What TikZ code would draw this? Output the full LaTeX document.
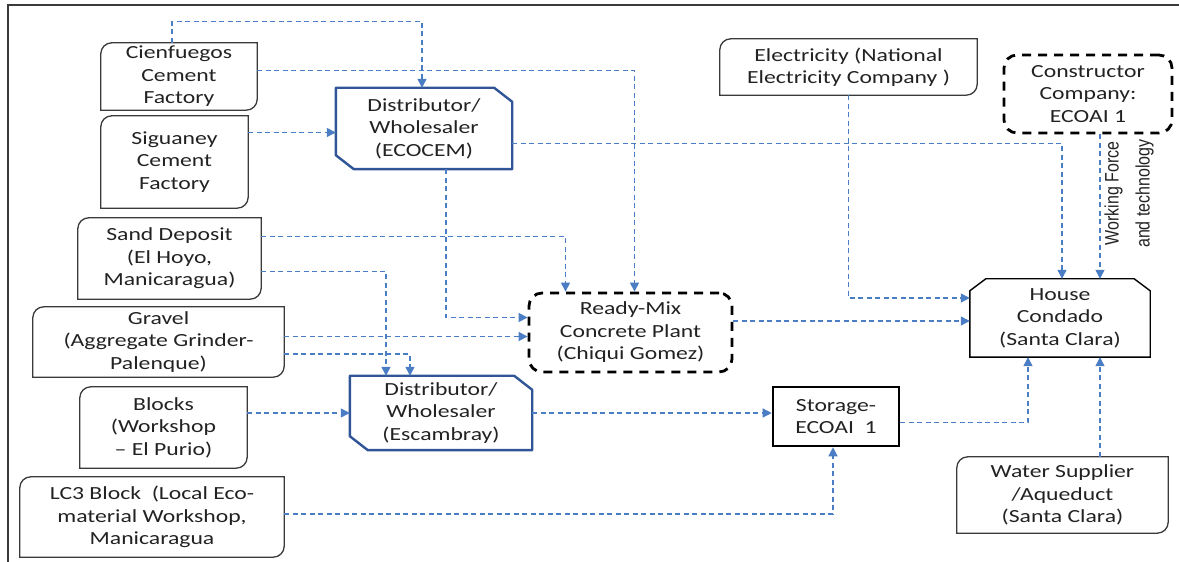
\documentclass[tikz,border=0pt]{standalone}
\usepackage{fontspec}
\setmainfont{Carlito}[FakeStretch=1.28]
\newfontfamily\narrowfont{Liberation Sans}[FakeStretch=0.82]
\usetikzlibrary{arrows.meta}
\definecolor{flowblue}{HTML}{4A7DC4}
\definecolor{distblue}{HTML}{2F5597}
\definecolor{boxgray}{HTML}{3A3A3A}
\definecolor{textgray}{HTML}{222222}

\newcommand{\boxfont}{\fontsize{18.5pt}{22.5pt}\selectfont}

% outline with rounded top-left and bottom-right corners
\newcommand{\diagcorners}[1]{%
  \draw[boxgray, line width=1.3pt] (#1.south west) -- ([yshift=-11pt]#1.north west)
    arc[start angle=180, end angle=90, radius=11pt] -- (#1.north east)
    -- ([yshift=11pt]#1.south east) arc[start angle=0, end angle=-90, radius=11pt] -- cycle;}
% distributor outline, top-right and bottom-left cut
\newcommand{\cutdiag}[1]{%
  \draw[distblue, line width=2.4pt, line join=round] (#1.north west) -- ([xshift=-18pt]#1.north east)
    -- ([yshift=-14pt]#1.north east) -- (#1.south east) -- ([xshift=18pt]#1.south west)
    -- ([yshift=14pt]#1.south west) -- cycle;}
% house outline, both top corners cut
\newcommand{\cuttop}[1]{%
  \draw[black, line width=1.4pt] (#1.south west) -- ([yshift=-12pt]#1.north west)
    -- ([xshift=16pt]#1.north west) -- ([xshift=-16pt]#1.north east)
    -- ([yshift=-12pt]#1.north east) -- (#1.south east) -- cycle;}

\tikzset{
  every node/.style={text=textgray, font=\boxfont, align=center, inner sep=0pt},
  plant/.style={draw=black, line width=2.8pt, dash pattern=on 9pt off 7pt, rounded corners=13pt},
  storebox/.style={draw=black, line width=2.6pt},
  flow/.style={flowblue, line width=1.2pt, dash pattern=on 5pt off 3.5pt,
    -{Triangle[length=9pt, width=9pt]}},
}

\begin{document}
\begin{tikzpicture}[x=1pt, y=1pt]
\useasboundingbox (0,0) rectangle (1179,562);
\draw[boxgray, line width=1.2pt] (8,0) -- (8,557) -- (1179,557);

% suppliers on the left
\node[minimum width=156pt, minimum height=67pt] (cien) at (179,485.5) {Cienfuegos\\Cement\\Factory};
\node[minimum width=147pt, minimum height=92pt] (sigu) at (174.5,400) {Siguaney\\Cement\\Factory};
\node[minimum width=183pt, minimum height=81pt] (sand) at (169.5,303.5) {Sand Deposit\\(El Hoyo,\\Manicaragua)};
\node[minimum width=251pt, minimum height=70pt] (grav) at (158.5,220) {Gravel\\(Aggregate Grinder-\\Palenque)};
\node[minimum width=167pt, minimum height=81pt] (blck) at (163.5,134.5) {Blocks\\(Workshop\\– El Purio)};
\node[minimum width=264pt, minimum height=80pt] (lc3) at (152,45) {LC3 Block\ \ (Local Eco-\\material Workshop,\\Manicaragua};
\foreach \n in {cien,sigu,sand,grav,blck,lc3} {\diagcorners{\n}}

% distributors
\node[minimum width=176pt, minimum height=81pt] (eco) at (424,433.5) {Distributor/\\Wholesaler\\(ECOCEM)};
\node[minimum width=182pt, minimum height=74pt] (esc) at (441,149) {Distributor/\\Wholesaler\\(Escambray)};
\cutdiag{eco}
\cutdiag{esc}

\node[plant, minimum width=203pt, minimum height=79pt] (ready) at (630.5,229.5) {Ready-Mix\\Concrete Plant\\(Chiqui Gomez)};
\node[storebox, minimum width=126pt, minimum height=59pt] (stor) at (836,145.5) {Storage-\\ECOAI\ \ 1};

% right side
\node[minimum width=180pt, minimum height=78pt] (house) at (1060,244) {House\\Condado\\(Santa Clara)};
\cuttop{house}
\node[minimum width=211pt, minimum height=76pt] (water) at (1062.5,67) {Water Supplier\\/Aqueduct\\(Santa Clara)};
\node[minimum width=257pt, minimum height=56pt] (elec) at (848.5,495) {Electricity (National\\Electricity Company )};
\diagcorners{water}
\diagcorners{elec}
\node[plant, minimum width=168pt, minimum height=78pt] (cons) at (1088,468) {Constructor\\Company:\\ECOAI 1};

% material flows
\draw[flow] ([xshift=-7pt]cien.north) -- ++(0,21) -| ([xshift=-2pt]eco.north);
\draw[flow] ([yshift=6pt]cien.east) -| ([xshift=4pt]ready.north);
\draw[flow] ([yshift=-4pt]eco.west -| sigu.east) -- ([yshift=-4pt]eco.west);
\draw[flow] ([yshift=-15pt]eco.east) -| ([xshift=2pt]house.north);
\draw[flow] ([xshift=22pt]eco.south) |- ([yshift=15pt]ready.west);
\draw[flow] ([yshift=-4pt]ready.west -| grav.east) -- ([yshift=-4pt]ready.west);
\draw[flow] ([yshift=22pt]sand.east) -| ([xshift=-65pt]ready.north);
\draw[flow] ([yshift=-13pt]sand.east) -| ([xshift=-55pt]esc.north);
\draw[flow] ([yshift=-12pt]grav.east) -| ([xshift=-31pt]esc.north);
\draw[flow] (esc.west -| blck.east) -- (esc.west);
\draw[flow] (esc.east) -- (esc.east -| stor.west);
\draw[flow] ([yshift=-3pt]house.west -| ready.east) -- ([yshift=-3pt]house.west);
\draw[flow] (elec.south) |- ([yshift=20pt]house.west);
\draw[flow] ([xshift=40pt]house.north |- cons.south) -- ([xshift=40pt]house.north)
  node[pos=0.41, rotate=90, anchor=north, inner sep=4pt,
       font=\narrowfont\fontsize{19.5pt}{31pt}\selectfont] (wlabel) {Working Force\\and technology};
\draw[flow] ([yshift=-6pt]stor.east) -| ([xshift=-32pt]house.south);
\draw[flow] ([xshift=40pt]house.south |- water.north) -- ([xshift=40pt]house.south);
\draw[flow] ([yshift=3pt]lc3.east) -| ([xshift=-3pt]stor.south);
\end{tikzpicture}
\end{document}
